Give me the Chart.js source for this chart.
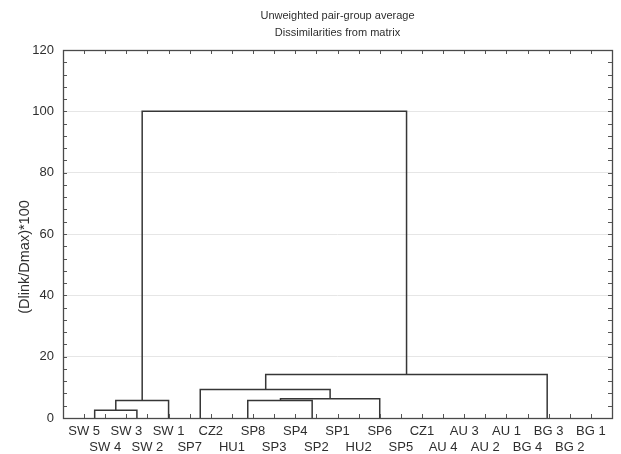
<!DOCTYPE html>
<html>
<head>
<meta charset="utf-8">
<script src="https://cdn.jsdelivr.net/npm/chart.js@4.4.1/dist/chart.umd.min.js"></script>
<style>
  html, body { margin: 0; padding: 0; background: #ffffff; }
  #wrap { width: 621px; height: 454px; }
</style>
</head>
<body>
<div id="wrap"><canvas id="c" width="621" height="454"></canvas></div>
<script>
// Leaf labels, in order along the axis (positions 1..25)
const leafLabels = ["SW 5","SW 4","SW 3","SW 2","SW 1","SP7","CZ2","HU1","SP8","SP3","SP4","SP2","SP1","HU2","SP6","SP5","CZ1","AU 4","AU 3","AU 2","AU 1","BG 4","BG 3","BG 2","BG 1"];

// Dendrogram merges (x in leaf-position units, heights in (Dlink/Dmax)*100)
const mergeLeftX       = [1.5, 2.5, 8.75, 10.3, 6.5, 9.6, 3.75];
const mergeRightX      = [3.5, 5.0, 11.8, 15.0, 12.65, 22.93, 16.27];
const mergeHeight      = [2.5, 5.7, 5.7, 6.3, 9.3, 14.2, 100];
const leftChildHeight  = [0, 2.5, 0, 5.7, 0, 9.3, 5.7];
const rightChildHeight = [0, 0, 0, 0, 6.3, 0, 14.2];

// Y tick labels
const yTicks = [0, 20, 40, 60, 80, 100, 120];

const titleLines = ["Unweighted pair-group average", "Dissimilarities from matrix"];
const yAxisTitle = "(Dlink/Dmax)*100";

const FONT = "'Liberation Sans', Arial, sans-serif";
const LINE = '#363636';
const TEXT = '#2e2e2e';

const datasets = mergeHeight.map((h, i) => ({
  data: [
    {x: mergeLeftX[i], y: leftChildHeight[i]},
    {x: mergeLeftX[i], y: h},
    {x: mergeRightX[i], y: h},
    {x: mergeRightX[i], y: rightChildHeight[i]}
  ],
  showLine: true,
  borderColor: LINE,
  borderWidth: 1.5,
  pointRadius: 0,
  tension: 0,
  fill: false
}));

const framePlugin = {
  id: 'frame',
  afterDatasetsDraw(chart) {
    const {ctx, chartArea: a, scales} = chart;
    const xs = scales.x, ys = scales.y;
    ctx.save();
    ctx.strokeStyle = '#555555';
    ctx.lineWidth = 1;
    for (let v = 1; v <= leafLabels.length; v++) {
      const px = Math.round(xs.getPixelForValue(v)) + 0.5;
      ctx.beginPath();
      ctx.moveTo(px, a.bottom); ctx.lineTo(px, a.bottom - 4);
      ctx.moveTo(px, a.top); ctx.lineTo(px, a.top + 4);
      ctx.stroke();
    }
    for (let v = 4; v < 120; v += 4) {
      const py = Math.round(ys.getPixelForValue(v)) + 0.5;
      ctx.beginPath();
      ctx.moveTo(a.left, py); ctx.lineTo(a.left + 4, py);
      ctx.moveTo(a.right, py); ctx.lineTo(a.right - 4, py);
      ctx.stroke();
    }
    ctx.strokeStyle = '#4a4a4a';
    ctx.lineWidth = 1.3;
    ctx.strokeRect(Math.round(a.left) + 0.5, Math.round(a.top) + 0.5,
                   Math.round(a.right - a.left), Math.round(a.bottom - a.top));
    // titles
    ctx.fillStyle = TEXT;
    ctx.textAlign = 'center';
    ctx.textBaseline = 'middle';
    ctx.font = "11px " + FONT;
    const cx = (a.left + a.right) / 2;
    ctx.fillText(titleLines[0], cx, 16);
    ctx.fillText(titleLines[1], cx, 33);
    // y-axis title
    ctx.save();
    ctx.translate(25, 257);
    ctx.rotate(-Math.PI / 2);
    ctx.font = "14.5px " + FONT;
    ctx.fillText(yAxisTitle, 0, 0);
    ctx.restore();
    ctx.restore();
  }
};

new Chart(document.getElementById('c'), {
  type: 'scatter',
  data: { datasets },
  options: {
    responsive: false,
    animation: false,
    devicePixelRatio: 1,
    layout: { padding: { left: 0, right: 9, top: 50, bottom: 0 } },
    plugins: {
      legend: { display: false },
      tooltip: { enabled: false },
      title: { display: false }
    },
    scales: {
      x: {
        type: 'linear',
        min: 0,
        max: leafLabels.length + 1,
        afterFit(scale) { scale.height = 36; },
        grid: { display: false, drawTicks: false },
        border: { display: false },
        ticks: {
          stepSize: 1,
          autoSkip: false,
          maxRotation: 0,
          minRotation: 0,
          padding: 5,
          color: TEXT,
          font: { family: FONT, size: 13, lineHeight: 1.25 },
          callback(v) {
            const i = Math.round(v) - 1;
            if (i < 0 || i >= leafLabels.length) return '';
            return (i % 2 === 0) ? [leafLabels[i], ''] : ['', leafLabels[i]];
          }
        }
      },
      y: {
        type: 'linear',
        min: yTicks[0],
        max: yTicks[yTicks.length - 1],
        afterFit(scale) { scale.width = 63; },
        afterBuildTicks(scale) { scale.ticks = yTicks.map(v => ({value: v})); },
        grid: {
          drawTicks: false,
          color(ctx) {
            const v = ctx.tick && ctx.tick.value;
            return (v === 0 || v === 120) ? 'rgba(0,0,0,0)' : '#e6e6e6';
          },
          lineWidth: 1
        },
        border: { display: false },
        title: { display: false },
        ticks: {
          padding: 9,
          color: TEXT,
          font: { family: FONT, size: 13 }
        }
      }
    }
  },
  plugins: [framePlugin]
});
</script>
</body>
</html>
